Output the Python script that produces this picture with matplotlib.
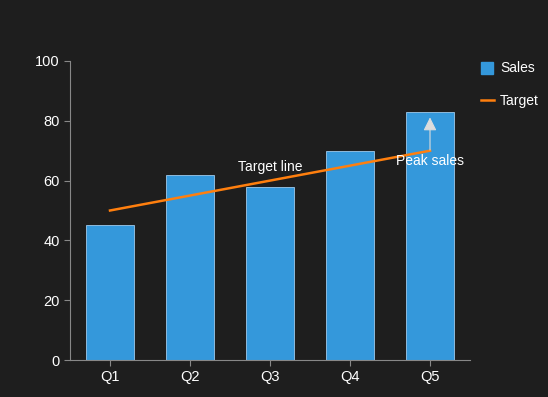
import matplotlib
matplotlib.use("Agg")
import matplotlib.pyplot as plt
from matplotlib.lines import Line2D

categories = ["Q1", "Q2", "Q3", "Q4", "Q5"]
sales = [45, 62, 58, 70, 83]
target = [50, 55, 60, 65, 70]
y_ticks = [0, 20, 40, 60, 80, 100]

plt.rcParams['font.family'] = ['Liberation Sans', 'DejaVu Sans']
bg = "#1e1e1e"
fig = plt.figure(figsize=(5.48, 3.97), dpi=100, facecolor=bg)
ax = fig.add_axes([70/548, 1 - 360/397, 400/548, 299/397])
ax.set_facecolor(bg)

x = list(range(len(categories)))
ax.bar(x, sales, width=0.6, color="#3498db", edgecolor="#9ec9ec", linewidth=0.6, zorder=2)
ax.plot(x, target, color="#ff7f0e", linewidth=1.8, zorder=3)

ax.set_xlim(-0.5, 4.5)
ax.set_ylim(0, 100)
ax.set_yticks(y_ticks)
ax.set_xticks(x)
ax.set_xticklabels(categories)

for s in ["top", "right"]:
    ax.spines[s].set_visible(False)
for s in ["left", "bottom"]:
    ax.spines[s].set_color("#888888")
ax.tick_params(colors="#888888", labelcolor="#ffffff", labelsize=10.5, length=4)

ax.text(2, 64.5, "Target line", color="#ffffff", ha="center", va="center", fontsize=10, zorder=4)
ax.annotate("Peak sales", xy=(4, 83), xytext=(4, 66.5), color="#ffffff",
            ha="center", va="center", fontsize=10, zorder=4,
            arrowprops=dict(arrowstyle="-|>", color="#dddddd", lw=0.8, shrinkA=1, shrinkB=4, mutation_scale=20))

handles = [Line2D([], [], marker="s", linestyle="none", color="#3498db", markersize=9),
           Line2D([], [], color="#ff7f0e", linewidth=1.8)]
leg = fig.legend(handles, ["Sales", "Target"], loc="upper left", bbox_to_anchor=(468/548, 1 - 49/397),
                 frameon=False, labelcolor="#ffffff", fontsize=10, handlelength=1.0,
                 handletextpad=0.4, labelspacing=1.35)

fig.savefig("out.png", dpi=100, facecolor=bg)
